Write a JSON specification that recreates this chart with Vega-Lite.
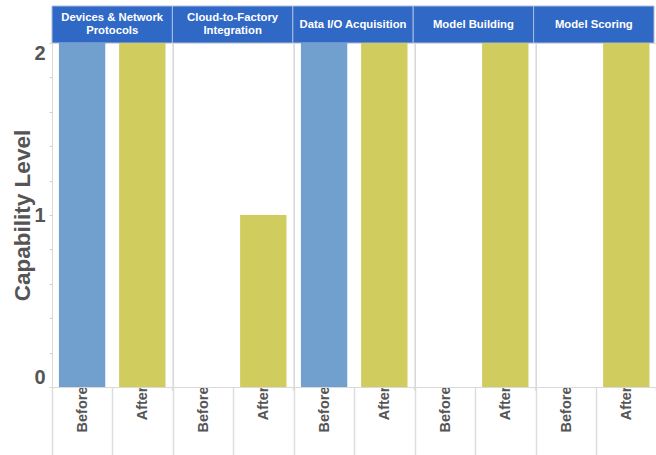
{
  "$schema": "https://vega.github.io/schema/vega-lite/v6.json",
  "padding": {"left": 11, "top": 5, "right": 0, "bottom": 0},
  "background": "white",
  "datasets": {
    "cats": [
      {"category": "Devices & Network Protocols", "top": "Devices & Network", "bottom": "Protocols", "mid": ""},
      {"category": "Cloud-to-Factory Integration", "top": "Cloud-to-Factory", "bottom": "Integration", "mid": ""},
      {"category": "Data I/O Acquisition", "top": "", "bottom": "", "mid": "Data I/O Acquisition"},
      {"category": "Model Building", "top": "", "bottom": "", "mid": "Model Building"},
      {"category": "Model Scoring", "top": "", "bottom": "", "mid": "Model Scoring"}
    ],
    "bars": [
      {"category": "Devices & Network Protocols", "status": "Before", "value": 2},
      {"category": "Devices & Network Protocols", "status": "After", "value": 2},
      {"category": "Cloud-to-Factory Integration", "status": "Before", "value": 0},
      {"category": "Cloud-to-Factory Integration", "status": "After", "value": 1},
      {"category": "Data I/O Acquisition", "status": "Before", "value": 2},
      {"category": "Data I/O Acquisition", "status": "After", "value": 2},
      {"category": "Model Building", "status": "Before", "value": 0},
      {"category": "Model Building", "status": "After", "value": 2},
      {"category": "Model Scoring", "status": "Before", "value": 0},
      {"category": "Model Scoring", "status": "After", "value": 2}
    ]
  },
  "spacing": 0,
  "bounds": "flush",
  "vconcat": [
    {
      "data": {"name": "cats"},
      "width": 602,
      "height": 37,
      "view": {"stroke": null},
      "encoding": {
        "x": {"field": "category", "type": "nominal", "sort": ["Devices & Network Protocols", "Cloud-to-Factory Integration", "Data I/O Acquisition", "Model Building", "Model Scoring"], "scale": {"paddingInner": 0, "paddingOuter": 0}, "axis": null}
      },
      "layer": [
        {
          "mark": {"type": "rect", "fill": "#3068c6", "stroke": "#a9bde0", "strokeWidth": 1}
        },
        {
          "mark": {"type": "text", "color": "white", "font": "Liberation Sans", "fontWeight": "bold", "fontSize": 11.3, "dy": -6.5},
          "encoding": {"text": {"field": "top"}}
        },
        {
          "mark": {"type": "text", "color": "white", "font": "Liberation Sans", "fontWeight": "bold", "fontSize": 11.3, "dy": 6.5},
          "encoding": {"text": {"field": "bottom"}}
        },
        {
          "mark": {"type": "text", "color": "white", "font": "Liberation Sans", "fontWeight": "bold", "fontSize": 11.3},
          "encoding": {"text": {"field": "mid"}}
        }
      ]
    },
    {
      "data": {"name": "bars"},
      "spacing": 0,
      "bounds": "flush",
      "facet": {
        "column": {"field": "category", "type": "nominal", "sort": ["Devices & Network Protocols", "Cloud-to-Factory Integration", "Data I/O Acquisition", "Model Building", "Model Scoring"], "header": null}
      },
      "spec": {
        "width": 120.4,
        "height": 344,
        "mark": {"type": "bar", "width": {"band": 0.77}},
        "encoding": {
          "x": {
            "field": "status", "type": "nominal", "sort": ["Before", "After"], "title": null,
            "scale": {"paddingInner": 0, "paddingOuter": 0},
            "axis": {
              "labelAngle": -90, "labelFontSize": 14.5, "labelFont": "Liberation Sans", "labelFontWeight": "bold",
              "labelColor": "#555555", "domain": false, "tickBand": "extent",
              "tickColor": "#dddddd", "tickWidth": 1.5,
              "tickSize": {"condition": {"test": "datum.value === 'After'", "value": 3}, "value": 69},
              "labelPadding": {"condition": {"test": "datum.value === 'After'", "value": -4}, "value": -70}
            }
          },
          "y": {
            "field": "value", "type": "quantitative", "title": "Capability Level",
            "scale": {"domain": [0, 2]},
            "axis": {
              "values": [0, 0.2, 0.4, 0.6, 0.8, 1, 1.2, 1.4, 1.6, 1.8, 2],
              "labelExpr": "datum.value == 0 || datum.value == 1 || datum.value == 2 ? format(datum.value, 'd') : ''",
              "labelOverlap": false,
              "labelFlush": true, "labelFontSize": 20, "labelFont": "Liberation Sans", "labelFontWeight": "bold",
              "labelColor": "#555555", "labelPadding": 4, "tickSize": 3, "tickColor": "#d0d0d0",
              "domain": false, "grid": false,
              "titleFontSize": 22.5, "titleFont": "Liberation Sans", "titleFontWeight": "bold", "titleColor": "#555555", "titlePadding": -1
            }
          },
          "color": {
            "field": "status", "type": "nominal",
            "scale": {"domain": ["Before", "After"], "range": ["#719fce", "#d0cd5e"]},
            "legend": null
          }
        }
      }
    }
  ],
  "config": {
    "view": {"stroke": "#d9d9d9"},
    "font": "Liberation Sans",
    "axis": {"labelOverlap": false}
  }
}
